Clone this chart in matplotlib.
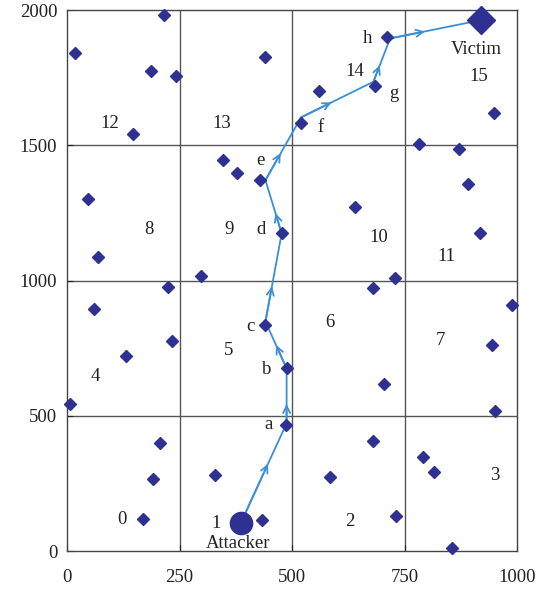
import matplotlib.pyplot as plt

plt.rcParams['font.family'] = ['Liberation Serif', 'DejaVu Serif']

# sensor nodes (x, y)
node_x = [216, 18, 186, 243, 147, 441, 520, 347, 377, 429, 47, 477, 69, 298, 225,
          710, 685, 560, 948, 782, 872, 890, 641, 918, 728, 681,
          60, 233, 132, 7, 441, 488, 486, 207, 190, 329, 168, 433,
          705, 680, 585, 730, 792, 815, 855, 988, 945, 951]
node_y = [1983, 1840, 1774, 1756, 1540, 1827, 1582, 1445, 1399, 1373, 1301, 1174, 1088, 1017, 975,
          1899, 1719, 1702, 1618, 1505, 1488, 1357, 1272, 1176, 1009, 971,
          895, 776, 722, 543, 835, 675, 466, 399, 267, 281, 119, 115,
          618, 408, 275, 131, 347, 292, 10, 908, 762, 518]

# attack path waypoints
path_x = [396, 488, 488, 441, 477, 441, 520, 681, 718, 921]
path_y = [139, 472, 675, 848, 1174, 1371, 1603, 1735, 1895, 1963]
arrow_frac = [0.55, 0.35, 0.5, 0.4, 0.38, 0.43, 0.42, 0.38, 0.38]

attacker = (386, 104)
victim = (921, 1963)

cell_ids = ['0', '1', '2', '3', '4', '5', '6', '7', '8', '9', '10', '11', '12', '13', '14', '15']
cell_x = [123, 331, 628, 950, 64, 360, 585, 830, 182, 360, 692, 844, 94, 343, 639, 916]
cell_y = [117, 102, 108, 280, 645, 743, 843, 780, 1189, 1189, 1159, 1088, 1581, 1581, 1774, 1756]

hop_ids = ['a', 'b', 'c', 'd', 'e', 'f', 'g', 'h']
hop_x = [447, 444, 407, 432, 429, 564, 727, 668]
hop_y = [466, 672, 829, 1189, 1445, 1565, 1692, 1893]

node_color = '#2e3192'
path_color = '#3a8fd8'
text_color = '#222222'
fs = 13.5

fig = plt.figure(figsize=(5.51, 5.90), dpi=100)
ax = fig.add_axes([0.1216, 0.0661, 0.8167, 0.9169])

for gx in [250, 500, 750]:
    ax.axvline(gx, color='#555555', lw=1.0, zorder=1)
for gy in [500, 1000, 1500]:
    ax.axhline(gy, color='#555555', lw=1.0, zorder=1)

ax.plot(path_x, path_y, color=path_color, lw=1.3, zorder=2)
for i in range(len(path_x) - 1):
    f = arrow_frac[i]
    x0, y0 = path_x[i], path_y[i]
    x1, y1 = path_x[i + 1], path_y[i + 1]
    xm, ym = x0 + f * (x1 - x0), y0 + f * (y1 - y0)
    ax.annotate('', xy=(xm, ym), xytext=(x0, y0),
                arrowprops=dict(arrowstyle='->,head_length=0.5,head_width=0.25',
                                color=path_color, lw=1.3, shrinkA=0, shrinkB=0),
                zorder=2)

ax.plot(node_x, node_y, 'D', color=node_color, markersize=6.5, zorder=3, clip_on=False)
ax.plot(*victim, 'D', color=node_color, markersize=14, zorder=4, clip_on=False)
ax.plot(*attacker, 'o', color=node_color, markersize=16, zorder=4)

for t, x, y in zip(cell_ids, cell_x, cell_y):
    ax.text(x, y, t, ha='center', va='center', fontsize=fs, color=text_color)
for t, x, y in zip(hop_ids, hop_x, hop_y):
    ax.text(x, y, t, ha='center', va='center', fontsize=fs, color=text_color)
ax.text(910, 1855, 'Victim', ha='center', va='center', fontsize=fs, color=text_color)
ax.text(381, 28, 'Attacker', ha='center', va='center', fontsize=fs, color=text_color)

ax.set_xlim(0, 1000)
ax.set_ylim(0, 2000)
ax.set_xticks([0, 250, 500, 750, 1000])
ax.set_yticks([0, 500, 1000, 1500, 2000])
ax.tick_params(direction='in', length=4, labelsize=fs, colors=text_color)
ax.tick_params(axis='x', pad=13)
ax.tick_params(axis='y', pad=7)
for s in ax.spines.values():
    s.set_color('#444444')
    s.set_linewidth(1.0)

fig.savefig('out.png', dpi=100)
